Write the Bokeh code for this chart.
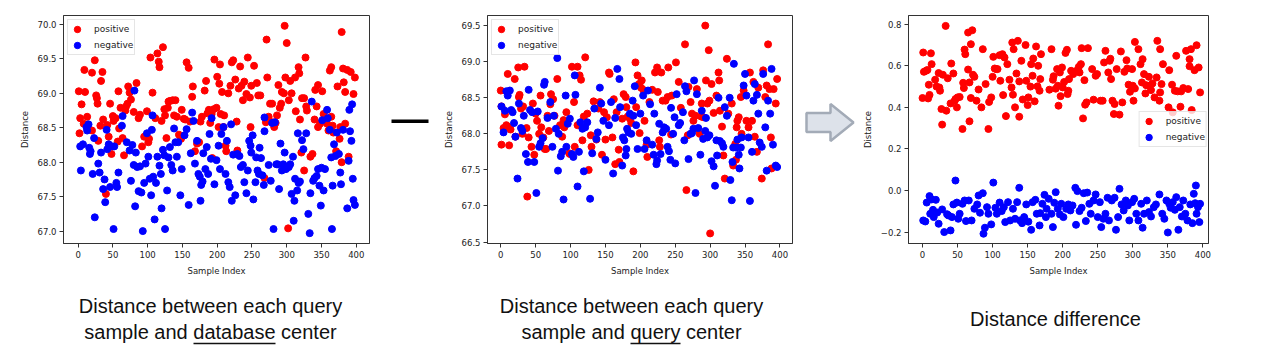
from bokeh.plotting import figure
from bokeh.layouts import row, column
from bokeh.models import Range1d, FixedTicker
from bokeh.embed import file_html
from bokeh.resources import INLINE
from bokeh.core.properties import value

# ---------------- data ----------------
X_TICKS = [0, 50, 100, 150, 200, 250, 300, 350, 400]
X_TICK_LABELS = ["0", "50", "100", "150", "200", "250", "300", "350", "400"]

P1_Y_TICKS = [67.0, 67.5, 68.0, 68.5, 69.0, 69.5, 70.0]
P1_Y_LABELS = ["67.0", "67.5", "68.0", "68.5", "69.0", "69.5", "70.0"]
P2_Y_TICKS = [66.5, 67.0, 67.5, 68.0, 68.5, 69.0, 69.5]
P2_Y_LABELS = ["66.5", "67.0", "67.5", "68.0", "68.5", "69.0", "69.5"]
P3_Y_TICKS = [-0.2, 0.0, 0.2, 0.4, 0.6, 0.8]
P3_Y_LABELS = ["\u22120.2", "0.0", "0.2", "0.4", "0.6", "0.8"]

SERIES = ["positive", "negative"]
CAPTIONS = ["Distance between each query", "sample and database center",
            "Distance between each query", "sample and query center",
            "Distance difference"]

# Panel 1: distance to database center
p1_pos_x = [1, 2, 3, 5, 8, 9, 10, 13, 20, 20, 24, 26, 27, 28, 29, 32, 33, 35, 36, 40, 42, 44, 46, 48, 50,
            51, 54, 57, 58, 59, 61, 64, 66, 68, 69, 71, 72, 74, 76, 80, 84, 87, 89, 92, 95, 99,
            101, 102, 104, 107, 111, 114, 116, 117, 120, 122, 124, 125, 127, 129, 130, 132, 136, 138, 140, 142, 145, 148, 149,
            152, 154, 156, 159, 161, 164, 165, 168, 171, 174, 176, 178, 182, 184, 186, 188, 190, 192, 193, 195, 196, 199, 200,
            202, 203, 204, 205, 207, 209, 210, 212, 213, 216, 219, 221, 223, 226, 228, 229, 231, 233, 235, 237, 239, 242, 244, 247, 248, 249,
            253, 257, 259, 262, 268, 270, 271, 272, 274, 276, 279, 280, 282, 284, 286, 288, 290, 292, 293, 296, 297, 298, 300, 302, 303, 305, 307,
            312, 313, 317, 318, 319, 321, 322, 325, 325, 327, 328, 329, 334, 337, 340, 341, 343, 345, 345, 348, 351,
            353, 358, 360, 362, 364, 364, 366, 367, 371, 373, 376, 377, 379, 381, 382, 384, 384, 387, 389, 392, 396, 398, 379]
p1_pos_y = [69.03, 68.42, 68.64, 68.84, 68.56, 69.34, 69.02, 68.66, 68.46, 69.30, 69.48, 68.97, 68.93, 68.85, 68.31, 68.53, 69.18, 69.31, 68.62, 67.54, 68.54, 68.37, 68.85, 68.12, 68.67,
            68.60, 68.64, 68.30, 69.03, 68.49, 68.79, 68.35, 68.10, 68.75, 68.81, 68.85, 69.10, 69.01, 68.91, 68.73, 69.15, 68.64, 68.69, 68.23, 68.37, 68.74,
            68.29, 68.34, 69.52, 69.01, 68.64, 69.58, 69.46, 69.38, 68.60, 69.67, 68.77, 68.68, 68.35, 68.79, 68.88, 68.89, 68.90, 68.68, 68.90, 68.66, 68.40, 68.34, 68.76,
            68.63, 68.62, 69.45, 69.37, 68.59, 68.95, 69.10, 68.16, 68.27, 68.29, 68.59, 68.66, 69.04, 69.18, 68.71, 68.76, 68.57, 68.70, 68.06, 68.77, 69.49, 68.79, 69.24,
            68.51, 69.14, 69.42, 68.70, 69.02, 68.51, 68.68, 68.24, 68.16, 69.00, 69.11, 69.45, 69.48, 69.20, 68.59, 68.17, 69.07, 69.39, 69.11, 68.90, 69.17, 68.99, 69.52, 68.94, 68.51, 69.11,
            69.40, 69.15, 68.97, 68.97, 67.77, 68.58, 69.78, 69.23, 68.66, 68.85, 68.85, 68.58, 68.51, 68.57, 68.68, 69.12, 68.79, 68.85, 69.02, 69.00, 69.98, 69.23, 69.73, 67.04, 68.90, 69.18, 69.00,
            69.23, 68.74, 69.38, 69.29, 68.62, 68.14, 68.93, 67.88, 68.93, 69.52, 68.81, 68.75, 68.08, 68.12, 68.62, 69.05, 68.81, 69.12, 68.51, 68.56, 69.03,
            68.70, 68.56, 68.46, 69.33, 68.66, 69.38, 68.53, 68.43, 68.16, 69.10, 68.34, 68.51, 69.89, 69.36, 69.16, 69.02, 68.56, 69.34, 68.08, 69.31, 68.99, 69.23, 68.00]
p1_neg_x = [3, 4, 7, 12, 13, 15, 16, 17, 18, 21, 23, 24, 29, 31, 33, 36, 38, 39, 41, 42, 44, 46, 49,
            51, 52, 55, 56, 58, 63, 64, 70, 74, 76, 78, 80, 81, 82, 83, 85, 87, 89, 91, 93, 95, 97, 99, 101,
            103, 105, 106, 107, 108, 110, 112, 114, 117, 119, 120, 122, 124, 125, 128, 130, 132, 134, 136, 138, 140, 142, 144, 147, 149,
            153, 156, 159, 162, 164, 166, 168, 171, 173, 175, 176, 177, 179, 180, 183, 185, 187, 189, 191, 192, 196, 199,
            202, 204, 206, 209, 212, 214, 216, 218, 220, 221, 223, 226, 229, 232, 234, 237, 239, 242, 244, 246, 248, 249,
            251, 252, 255, 256, 258, 260, 261, 263, 265, 267, 268, 268, 274, 277, 279, 281, 283, 285, 287, 289, 291, 293, 295, 297, 299,
            303, 305, 307, 309, 310, 311, 312, 315, 316, 317, 319, 322, 324, 328, 331, 333, 334, 336, 338, 340, 343, 345, 347, 349, 350,
            351, 353, 355, 358, 359, 362, 364, 365, 366, 368, 370, 372, 375, 377, 378, 381, 387, 389, 390, 391, 393, 394, 395, 396, 398]
p1_neg_y = [68.23, 67.88, 68.26, 68.51, 68.46, 68.55, 68.21, 68.12, 68.16, 67.83, 68.35, 67.20, 67.98, 67.85, 68.14, 67.61, 67.75, 67.42, 68.47, 68.19, 68.26, 67.64, 68.23,
            67.03, 68.23, 67.70, 67.64, 67.85, 68.53, 68.67, 68.29, 68.17, 67.73, 68.25, 67.96, 69.04, 67.36, 68.14, 67.93, 67.58, 67.94, 67.56, 67.00, 67.70, 67.98, 68.42, 68.08,
            67.76, 67.52, 68.47, 68.68, 67.79, 67.17, 67.70, 68.08, 67.95, 67.83, 67.33, 68.18, 68.10, 67.03, 67.59, 68.07, 68.22, 67.96, 67.88, 68.49, 68.29, 68.08, 68.29, 67.52, 67.90,
            68.39, 68.48, 67.38, 68.13, 68.72, 68.60, 67.98, 68.31, 67.83, 67.79, 67.44, 67.67, 67.72, 68.13, 67.90, 68.22, 67.83, 68.41, 68.05, 68.64, 67.68, 68.03,
            68.24, 67.90, 68.41, 68.51, 67.83, 68.31, 67.71, 67.64, 68.55, 67.44, 68.11, 67.52, 68.12, 68.09, 67.93, 67.96, 67.71, 67.55, 67.88, 68.31, 68.24, 68.14,
            68.39, 67.46, 67.71, 68.07, 67.88, 67.83, 68.21, 68.06, 67.81, 67.67, 68.65, 68.45, 67.96, 67.73, 68.57, 67.03, 68.58, 67.97, 67.97, 67.61, 68.27, 67.88, 67.97, 68.14, 67.90,
            67.93, 67.97, 67.54, 68.08, 67.15, 67.44, 67.76, 67.59, 68.42, 67.70, 67.72, 68.32, 68.19, 68.42, 67.25, 66.97, 67.55, 68.88, 67.73, 67.77, 67.80, 67.90, 67.66, 67.37, 67.92,
            68.61, 67.59, 67.90, 68.76, 68.64, 68.47, 68.07, 67.03, 67.66, 68.26, 68.09, 68.43, 68.12, 67.85, 67.68, 68.47, 67.33, 68.02, 68.76, 68.45, 68.31, 68.84, 67.76, 67.45, 67.38]

# Panel 2: distance to query center
p2_pos_x = [0, 1, 1, 4, 6, 8, 10, 10, 12, 14, 20, 21, 25, 26, 27, 29, 31, 32, 34, 37, 38, 40, 44, 46, 48, 50,
            52, 55, 57, 58, 61, 63, 65, 67, 69, 71, 72, 75, 77, 81, 85, 88, 90, 91, 94, 98, 99,
            102, 105, 106, 110, 110, 113, 115, 117, 119, 121, 124, 126, 129, 130, 133, 137, 140, 142, 145, 148, 150,
            152, 155, 156, 160, 162, 164, 166, 169, 170, 174, 176, 179, 180, 182, 185, 187, 190, 193, 194, 196, 198, 199,
            201, 202, 204, 206, 209, 210, 213, 217, 221, 224, 225, 227, 228, 230, 232, 236, 239, 240, 244, 245, 251,
            255, 258, 264, 266, 268, 269, 272, 274, 276, 279, 281, 282, 285, 287, 288, 290, 293, 294, 296, 298, 299, 300, 302,
            305, 309, 312, 313, 314, 317, 319, 321, 324, 326, 331, 333, 336, 337, 338, 339, 341, 344, 345, 348,
            352, 355, 357, 360, 362, 364, 367, 369, 374, 376, 379, 381, 383, 385, 387, 388, 391, 394, 396]
p2_pos_y = [68.60, 67.85, 68.38, 68.08, 68.27, 68.12, 68.83, 68.10, 67.84, 68.06, 68.76, 67.96, 68.92, 68.51, 68.54, 68.35, 68.00, 68.38, 68.93, 68.08, 67.13, 67.95, 67.82, 68.42, 67.71, 68.28,
            68.18, 68.00, 68.53, 68.09, 67.95, 67.79, 67.79, 68.25, 68.04, 68.41, 68.55, 68.48, 68.25, 68.76, 68.12, 67.96, 68.19, 68.09, 68.30, 67.73, 67.72,
            68.93, 68.44, 67.82, 68.93, 68.12, 68.81, 68.75, 67.91, 68.24, 69.06, 68.28, 67.50, 67.98, 67.82, 68.45, 67.92, 68.35, 68.44, 67.71, 68.30, 67.92,
            68.23, 68.85, 68.83, 67.95, 68.48, 67.58, 68.30, 67.78, 67.61, 68.21, 68.55, 68.51, 68.37, 68.24, 68.21, 68.15, 67.48, 68.99, 68.37, 68.81, 68.69, 68.01,
            68.64, 68.74, 68.61, 68.18, 67.85, 67.68, 68.44, 68.61, 68.85, 68.92, 68.58, 67.91, 67.82, 68.85, 68.46, 68.46, 68.51, 68.92, 67.99, 68.53, 68.99,
            68.72, 68.36, 69.24, 67.22, 67.98, 68.65, 68.44, 68.28, 68.18, 68.25, 68.62, 68.07, 68.00, 68.24, 68.42, 68.23, 69.50, 68.74, 68.42, 69.16, 68.46, 66.62, 68.69,
            68.29, 68.53, 68.85, 68.74, 68.32, 68.10, 67.70, 67.38, 69.04, 68.28, 68.42, 67.56, 67.86, 67.64, 68.09, 68.18, 68.23, 68.51, 68.00, 68.60,
            68.18, 68.09, 68.85, 68.18, 68.72, 67.96, 67.75, 68.64, 67.38, 68.88, 68.51, 68.67, 69.24, 68.62, 67.95, 67.52, 68.62, 68.42, 68.76]
p2_neg_x = [1, 4, 6, 8, 10, 13, 15, 17, 19, 21, 24, 26, 29, 31, 33, 36, 39, 40, 42, 45, 48, 51, 53,
            55, 57, 60, 62, 63, 67, 71, 74, 76, 79, 81, 82, 83, 86, 88, 90, 93, 94, 96, 99,
            102, 104, 106, 107, 110, 112, 114, 117, 119, 121, 124, 128, 131, 134, 137, 139, 142, 144, 147, 150,
            155, 158, 161, 164, 167, 170, 171, 174, 175, 177, 179, 180, 181, 183, 185, 187, 189, 190, 192, 194, 196,
            200, 204, 206, 209, 211, 214, 217, 219, 220, 223, 224, 227, 229, 232, 234, 237, 239, 241, 243, 244, 247, 249, 250, 252,
            255, 257, 261, 263, 264, 266, 269, 272, 274, 276, 277, 279, 281, 283, 286, 288, 290, 293, 294, 296, 299,
            302, 305, 307, 309, 310, 312, 314, 317, 319, 321, 324, 328, 329, 331, 332, 333, 334, 337, 339, 341, 342, 344, 345, 348,
            350, 352, 355, 357, 360, 362, 364, 367, 369, 371, 374, 376, 379, 381, 383, 386, 388, 390, 394, 396]
p2_neg_y = [68.38, 68.02, 68.32, 68.59, 68.53, 68.60, 68.33, 68.30, 68.15, 67.96, 67.38, 68.42, 68.08, 68.04, 68.25, 67.72, 67.61, 68.61, 68.33, 68.30, 67.61, 67.18, 68.31,
            67.82, 67.87, 67.94, 68.68, 68.72, 68.22, 68.44, 67.82, 68.25, 68.07, 69.05, 67.49, 68.00, 67.69, 67.75, 67.09, 68.53, 67.82, 68.14, 68.21,
            67.72, 67.68, 68.81, 68.54, 67.27, 67.75, 68.16, 68.07, 67.48, 68.09, 68.16, 67.10, 67.73, 68.35, 67.93, 68.02, 68.64, 68.42, 68.18, 67.64,
            68.12, 68.44, 67.45, 68.22, 68.90, 68.76, 68.37, 67.56, 67.95, 67.91, 67.70, 67.79, 68.07, 68.02, 68.28, 68.00, 68.46, 68.25, 68.66, 68.12, 67.79,
            68.28, 68.53, 67.79, 67.91, 68.60, 68.41, 67.85, 67.71, 68.28, 67.58, 67.63, 68.14, 67.72, 68.02, 68.09, 68.07, 67.82, 67.76, 67.64, 68.36, 68.00, 68.23, 67.59, 68.55,
            68.12, 68.15, 68.30, 67.91, 68.66, 68.59, 67.65, 68.00, 68.01, 68.07, 68.74, 67.18, 68.55, 68.08, 67.71, 68.32, 67.93, 68.04, 68.22, 67.95, 67.98,
            67.62, 67.55, 67.28, 67.91, 67.70, 68.50, 67.90, 67.87, 67.82, 68.37, 68.25, 68.50, 67.36, 67.08, 67.61, 67.81, 68.97, 67.81, 67.92, 67.71, 67.52, 67.81, 67.95, 68.67,
            68.83, 68.53, 67.95, 67.07, 67.75, 68.46, 68.69, 68.54, 68.28, 67.88, 67.82, 68.83, 68.09, 67.49, 68.46, 68.28, 68.90, 67.85, 67.56, 67.54]

# Panel 3: distance difference
p3_pos_x = [0, 1, 2, 5, 7, 8, 10, 9, 12, 13, 18, 20, 23, 24, 25, 27, 28, 29, 33, 34,
            36, 40, 41, 44, 46, 47, 49, 50, 53, 57, 58, 59, 60, 61, 65, 65, 67, 67, 69, 69,
            71, 72, 74, 77, 80, 84, 86, 90, 94, 95, 98, 100, 101, 103, 105, 107, 110, 111, 114, 115,
            117, 119, 121, 124, 127, 128, 130, 129, 132, 134, 136, 138, 138, 141, 143, 147, 148, 150, 151, 154,
            155, 157, 158, 160, 162, 164, 165, 167, 168, 169, 181, 184, 186, 187, 190, 192, 193, 194, 196, 197,
            199, 200, 202, 204, 206, 207, 208, 209, 212, 215, 218, 221, 223, 224, 226, 227, 229, 231, 232, 234,
            236, 242, 244, 247, 249, 254, 257, 259, 261, 265, 267, 268, 269, 271, 273, 274, 277, 281, 283, 285,
            288, 291, 292, 294, 296, 299, 300, 301, 303, 303, 308, 311, 313, 314, 316, 318, 319, 323, 324, 326,
            328, 331, 335, 334, 338, 339, 339, 341, 343, 351, 352, 356, 357, 360, 362, 364, 368, 369, 372, 376,
            379, 381, 381, 383, 384, 388, 391, 394, 396]
p3_pos_y = [0.445, 0.664, 0.571, 0.576, 0.58, 0.443, 0.46, 0.509, 0.66, 0.608, 0.533, 0.5, 0.565, 0.496, 0.48, 0.392, 0.317, 0.557, 0.792, 0.384,
            0.54, 0.419, 0.611, 0.563, 0.432, 0.44, 0.4, 0.448, 0.45, 0.296, 0.518, 0.493, 0.678, 0.656, 0.582, 0.76, 0.333, 0.52, 0.704, 0.445,
            0.771, 0.557, 0.547, 0.432, 0.486, 0.4, 0.68, 0.512, 0.296, 0.426, 0.448, 0.547, 0.643, 0.587, 0.584, 0.584, 0.651, 0.528, 0.656, 0.459,
            0.64, 0.358, 0.608, 0.533, 0.496, 0.712, 0.68, 0.461, 0.4, 0.563, 0.72, 0.525, 0.355, 0.624, 0.438, 0.7, 0.528, 0.411, 0.448, 0.5,
            0.608, 0.552, 0.635, 0.429, 0.693, 0.501, 0.6, 0.48, 0.536, 0.656, 0.485, 0.68, 0.533, 0.55, 0.49, 0.584, 0.504, 0.408, 0.568, 0.454,
            0.592, 0.496, 0.522, 0.662, 0.677, 0.464, 0.48, 0.536, 0.576, 0.56, 0.573, 0.579, 0.595, 0.568, 0.608, 0.685, 0.347, 0.531, 0.413, 0.424,
            0.685, 0.584, 0.437, 0.552, 0.56, 0.432, 0.432, 0.616, 0.672, 0.568, 0.624, 0.634, 0.536, 0.432, 0.368, 0.416, 0.584, 0.365, 0.669, 0.424,
            0.571, 0.627, 0.587, 0.509, 0.475, 0.584, 0.504, 0.432, 0.491, 0.715, 0.68, 0.608, 0.52, 0.632, 0.56, 0.467, 0.507, 0.547, 0.504, 0.483,
            0.515, 0.448, 0.72, 0.544, 0.432, 0.68, 0.472, 0.512, 0.608, 0.4, 0.579, 0.509, 0.376, 0.48, 0.648, 0.477, 0.403, 0.477, 0.493, 0.672,
            0.488, 0.632, 0.598, 0.68, 0.387, 0.579, 0.699, 0.592, 0.472]
p3_neg_x = [1, 4, 6, 10, 11, 13, 15, 16, 19, 21, 23, 28, 31, 35, 37, 40, 42, 44, 47, 49,
            51, 53, 57, 60, 62, 66, 70, 74, 78, 80, 82, 86, 87, 89, 92, 94, 98, 101, 104, 106,
            110, 113, 116, 118, 122, 125, 129, 132, 135, 138, 139, 142, 145, 148, 151, 155, 157, 161, 163, 167,
            168, 171, 174, 176, 177, 180, 184, 186, 188, 190, 193, 196, 198, 201, 205, 208, 211, 214, 218, 219,
            221, 224, 227, 230, 233, 235, 238, 240, 244, 247, 250, 253, 255, 258, 261, 264, 266, 270, 274, 276,
            279, 281, 284, 287, 290, 293, 295, 299, 302, 305, 308, 312, 314, 316, 320, 323, 326, 330, 333, 338,
            342, 345, 348, 350, 352, 354, 357, 360, 362, 365, 367, 370, 372, 375, 378, 382, 385, 387, 389, 390,
            391, 393, 395, 396]
p3_neg_y = [-0.144, -0.149, -0.058, -0.027, -0.112, -0.043, -0.093, -0.128, -0.045, -0.106,
            -0.16, -0.091, -0.2, -0.114, -0.12, -0.192, -0.128, -0.067, 0.048, -0.058,
            -0.136, -0.112, -0.064, -0.048, -0.147, -0.048, -0.144, -0.088, -0.067, -0.024,
            -0.107, -0.013, -0.208, -0.179, -0.08, -0.112, -0.163, 0.038, -0.083, -0.112,
            -0.058, -0.099, -0.08, -0.152, -0.056, -0.144, -0.088, -0.136, -0.056, 0.013,
            -0.144, -0.157, -0.128, -0.067, -0.15, -0.189, -0.056, -0.045, -0.112, -0.168,
            -0.109, -0.064, -0.021, -0.128, -0.088, -0.04, -0.112, -0.176, -0.059, -0.008,
            -0.088, -0.115, -0.064, -0.128, -0.088, -0.067, -0.096, -0.072, 0.013, -0.165,
            -0.003, -0.099, -0.083, -0.013, -0.147, -0.01, -0.064, -0.112, -0.048, -0.019,
            -0.128, -0.056, -0.176, -0.136, -0.112, -0.035, -0.144, -0.048, -0.035, -0.189,
            -0.128, 0.008, -0.067, -0.096, -0.048, -0.072, -0.144, -0.056, -0.04, -0.112,
            -0.144, -0.064, -0.179, -0.112, -0.048, -0.104, -0.125, -0.08, -0.067, -0.019,
            -0.112, -0.136, -0.048, -0.202, -0.064, -0.083, -0.056, -0.093, -0.032, -0.189,
            -0.08, -0.125, -0.048, -0.112, -0.144, -0.067, -0.157, -0.016, -0.061, 0.024,
            -0.112, -0.08, -0.152, -0.064]

# ---------------- styling ----------------
POS_COLOR = "#ff0000"
NEG_COLOR = "#0000ff"
AX_COLOR = "#333333"
TXT_COLOR = "#222222"
TICK_FONT = "DejaVu Sans"
ROW_H = 278


def make_panel(xp, yp, xn, yn, xr, yr, yticks, ylabels, width, bl, br, legend_loc, legend_margin):
    p = figure(width=width, height=ROW_H, x_range=Range1d(*xr), y_range=Range1d(*yr),
               output_backend="svg", toolbar_location=None,
               min_border_left=bl, min_border_right=br, min_border_top=15, min_border_bottom=35)
    p.scatter(xp, yp, size=7, color=POS_COLOR, legend_label=SERIES[0])
    p.scatter(xn, yn, size=7, color=NEG_COLOR, legend_label=SERIES[1])
    p.grid.visible = False
    p.outline_line_color = AX_COLOR
    p.outline_line_width = 1
    p.xaxis.ticker = FixedTicker(ticks=X_TICKS)
    p.xaxis.major_label_overrides = dict(zip(X_TICKS, X_TICK_LABELS))
    p.yaxis.ticker = FixedTicker(ticks=yticks)
    p.yaxis.major_label_overrides = dict(zip(yticks, ylabels))
    for ax in (p.xaxis, p.yaxis):
        ax.axis_line_color = AX_COLOR
        ax.major_tick_line_color = AX_COLOR
        ax.major_tick_in = 0
        ax.major_tick_out = 4
        ax.minor_tick_line_color = None
        ax.major_label_text_font = TICK_FONT
        ax.major_label_text_font_size = "8.5px"
        ax.major_label_text_color = TXT_COLOR
        ax.major_label_standoff = 3
        ax.axis_label_text_font = TICK_FONT
        ax.axis_label_text_font_size = "8.5px"
        ax.axis_label_text_font_style = "normal"
        ax.axis_label_text_color = TXT_COLOR
        ax.axis_label_standoff = 5
    p.xaxis.axis_label = "Sample Index"
    p.yaxis.axis_label = "Distance"
    lg = p.legend[0]
    lg.location = legend_loc
    lg.margin = legend_margin
    lg.padding = 1
    lg.spacing = -2
    lg.glyph_width = 16
    lg.glyph_height = 16
    lg.label_height = 16
    lg.label_standoff = 9
    lg.label_text_font = TICK_FONT
    lg.label_text_font_size = "9px"
    lg.label_text_color = TXT_COLOR
    lg.border_line_color = "#cccccc"
    lg.border_line_width = 1
    lg.background_fill_alpha = 0.8
    return p


f1 = make_panel(p1_pos_x, p1_pos_y, p1_neg_x, p1_neg_y, (-21, 419), (66.82, 70.13), P1_Y_TICKS, P1_Y_LABELS,
                379, 63, 10, "top_left", 4)
f2 = make_panel(p2_pos_x, p2_pos_y, p2_neg_x, p2_neg_y, (-19, 418), (66.48, 69.64), P2_Y_TICKS, P2_Y_LABELS,
                370, 54, 11, "top_left", 4)
f3 = make_panel(p3_pos_x, p3_pos_y, p3_neg_x, p3_neg_y, (-20, 408), (-0.255, 0.842), P3_Y_TICKS, P3_Y_LABELS,
                422, 50, 72, "center_right", 1)


def blank(width, height, yr=None):
    b = figure(width=width, height=height, x_range=Range1d(0, width),
               y_range=yr if yr is not None else Range1d(0, height),
               x_axis_type=None, y_axis_type=None, output_backend="svg", toolbar_location=None,
               min_border=0)
    b.grid.visible = False
    b.outline_line_color = None
    return b


# minus sign between panels 1 and 2
fm = blank(54, ROW_H)
fm.segment(x0=[12], y0=[149], x1=[49], y1=[149], line_width=3.5, line_color="#000000")

# block arrow between panels 2 and 3
fa = blank(55, ROW_H)
fa.patch(x=[3, 27, 27, 50, 27, 27, 3], y=[159, 159, 170, 147.5, 125, 136, 136],
         fill_color="#dde2ea", line_color="#a3abb7", line_width=2.5)

# captions
fcap = blank(1280, 79, Range1d(79, 0))
fcap.text(x=[210, 210, 631, 631, 1055], y=[27, 53, 27, 53, 40], text=CAPTIONS,
          text_align="center", text_baseline="middle", text_font=value("Liberation Sans"),
          text_font_size="20px", text_color="#111111")
fcap.segment(x0=[193, 630], y0=[65, 65], x1=[275, 680], y1=[65, 65],
             line_width=1.5, line_color="#111111")

layout = column(row(f1, fm, f2, fa, f3), fcap)
open("out.html", "w").write(file_html(layout, INLINE))
